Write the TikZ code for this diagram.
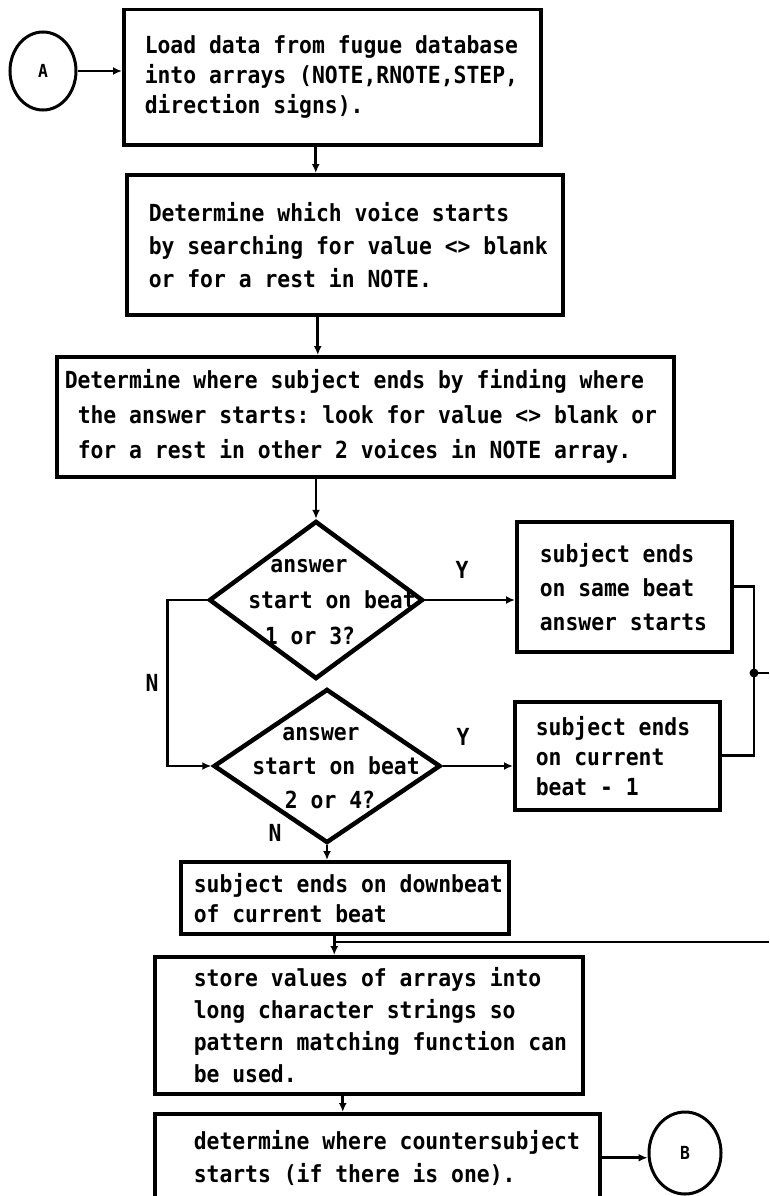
\documentclass[tikz,border=0pt]{standalone}
\usepackage{fontspec}
\usetikzlibrary{arrows.meta,shapes.geometric}
\newfontfamily\plotfont[FakeStretch=0.91]{DejaVu Sans Mono}
% monospaced word gaps, one character cell wide
\newcommand\cellspace{\spaceskip=12.87pt\relax\xspaceskip=12.87pt\relax}
\newcommand\pline[1]{\mbox{\cellspace#1}}
\begin{document}
\begin{tikzpicture}[x=1pt,y=-1pt,
  txtfont/.style={font={\plotfont\bfseries\fontsize{23.5}{#1}\selectfont},
    execute at begin node=\cellspace},
  box/.style={draw, line width=3.5pt, align=left, inner ysep=0pt, anchor=north west},
  decision/.style={draw, shape=diamond, line width=4.5pt, inner sep=0pt},
  connector/.style={draw, shape=ellipse, line width=3pt, inner sep=0pt,
    font={\plotfont\bfseries\fontsize{18}{20}\selectfont}},
  flow/.style={line width=2.8pt},
  arr/.style={flow, -{Latex[length=9pt,width=8pt]}},
  tag/.style={txtfont=30, inner sep=0pt}]
\useasboundingbox (0,0) rectangle (769,1196);

% process boxes
\node[box, txtfont=30, minimum width=417pt, minimum height=135pt,
  text width=375pt, inner xsep=21pt] (b1) at (122,8)
  {\pline{Load data from fugue database}\\
   \pline{into arrays (NOTE,RNOTE,STEP,}\\
   \pline{direction signs).}};
\node[box, txtfont=33, minimum width=436pt, minimum height=140pt,
  text width=392pt, inner xsep=22pt] (b2) at (125,173)
  {\pline{Determine which voice starts}\\
   \pline{by searching for value <> blank}\\
   \pline{or for a rest in NOTE.}};
\node[box, txtfont=35, minimum width=617pt, minimum height=120pt,
  text width=601pt, inner xsep=8pt] (b3) at (55,355)
  {\pline{Determine where subject ends by finding where}\\
   \pline{\hspace*{13pt}the answer starts: look for value <> blank or}\\
   \pline{\hspace*{13pt}for a rest in other 2 voices in NOTE array.}};
\node[box, txtfont=34, minimum width=215pt, minimum height=130pt,
  text width=169pt, inner xsep=23pt] (sb1) at (515,520)
  {\pline{subject ends}\\ \pline{on same beat}\\ \pline{answer starts}};
\node[box, txtfont=30, minimum width=205pt, minimum height=108pt,
  text width=163pt, inner xsep=21pt] (sb2) at (513,700)
  {\pline{subject ends}\\ \pline{on current}\\ \pline{beat - 1}};
\node[box, txtfont=30, minimum width=328pt, minimum height=72pt,
  text width=302pt, inner xsep=13pt] (db) at (179,860)
  {\pline{subject ends on downbeat}\\ \pline{of current beat}};
\node[box, txtfont=32, minimum width=428pt, minimum height=137pt,
  text width=350pt, inner xsep=39pt] (st) at (153,955)
  {\pline{store values of arrays into}\\
   \pline{long character strings so}\\
   \pline{pattern matching function can}\\
   \pline{be used.}};
\node[box, txtfont=33, minimum width=445pt, minimum height=88pt,
  text width=367pt, inner xsep=39pt] (det) at (153,1112)
  {\pline{determine where countersubject}\\
   \pline{starts (if there is one).}};

% decisions
\node[decision, minimum width=214pt, minimum height=158pt] (d1) at (316,600) {};
\node[txtfont=36, align=center, inner sep=0pt] (d1t) at (318,602)
  {\pline{answer}\hspace*{18pt}\\\hspace*{28pt}\pline{start on beat}\\\pline{1 or 3?}\hspace*{16pt}};
\node[decision, minimum width=227pt, minimum height=154pt] (d2) at (327,766) {};
\node[txtfont=34, align=center, inner sep=0pt] (d2t) at (330,768)
  {\pline{answer}\hspace*{18pt}\\\hspace*{12pt}\pline{start on beat}\\\pline{2 or 4?}};

% off-page connectors
\node[connector, minimum width=66pt, minimum height=78pt] (A) at (43,71) {A};
\node[connector, minimum width=72pt, minimum height=82pt] (B) at (685,1153) {B};

% junctions and free ends
\coordinate (j) at (754,673);
\coordinate (jout) at (769,673);
\coordinate (lin) at (769,942);
\coordinate (mrg) at ([xshift=-10.5pt]db.south);

% connectors
\draw[arr] (A.east) -- (A.east -| b1.west);
\draw[arr] ([xshift=-16.5pt]b1.south) -- ([xshift=-16.5pt]b1.south |- b2.north);
\draw[arr] ([xshift=-27pt]b2.south) -- ([xshift=-27pt]b2.south |- b3.north);
\draw[arr] (b3.south -| d1.north) -- (d1.north);
\draw[arr] (d1.east) -- (d1.east -| sb1.west);
\draw[arr] (d1.west) -- ++(-39,0) |- (d2.west);
\draw[arr] (d2.east) -- (d2.east -| sb2.west);
\draw[arr] (d2.south) -- (d2.south |- db.north);
\draw[flow] (sb1.east) -| (j);
\draw[flow] (sb2.east) -| (j);
\draw[flow] (j) -- (jout);
\fill (j) circle (4.5pt);
\draw[flow] (lin) -- (lin -| mrg);
\draw[arr] (mrg) -- (mrg |- st.north);
\draw[arr] ([xshift=-26pt]st.south) -- ([xshift=-26pt]st.south |- det.north);
\draw[arr] (det.east) -- (det.east -| B.west);

% branch labels
\node[tag] (y1) at (462,570) {Y};
\node[tag] (y2) at (463,737) {Y};
\node[tag] (n1) at (152,683) {N};
\node[tag] (n2) at (275,833) {N};
\end{tikzpicture}
\end{document}
